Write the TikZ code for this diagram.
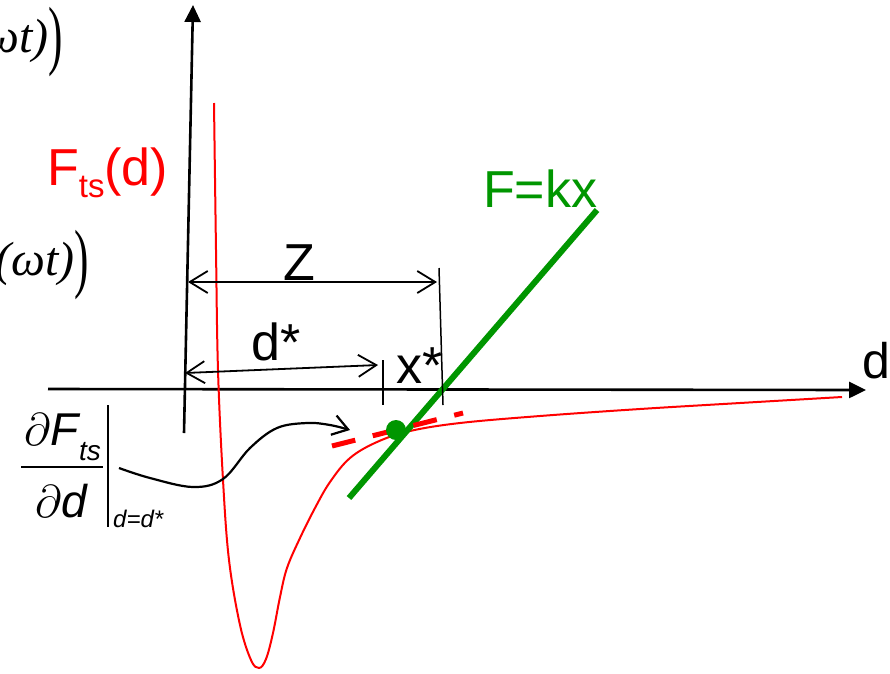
\RequirePackage{fix-cm}
\documentclass[tikz,border=0pt]{standalone}
\usepackage{fontspec}
\setmainfont{Liberation Sans}
\newfontfamily\tmsfont{Liberation Serif}
\usepackage{graphicx}
\usetikzlibrary{arrows.meta}
\definecolor{kgreen}{RGB}{0,150,0}
\begin{document}
\begin{tikzpicture}[x=1pt,y=-1pt,
  lbl/.style={inner sep=0pt, font=\fontsize{52}{60}\selectfont},
  formula/.style={inner sep=0pt, font=\fontsize{48}{52}\tmsfont\itshape},
  axisline/.style={line width=2.6pt, black},
  dimarrow/.style={line width=1.8pt, {Straight Barb[length=18pt,width=22pt]}-{Straight Barb[length=18pt,width=22pt]}},
  dimtick/.style={line width=1.5pt},
  forcecurve/.style={red, line width=2pt},
  tangent/.style={red, line width=5pt, dash pattern=on 24pt off 18pt},
  springline/.style={kgreen, line width=6pt},
  pointer/.style={line width=2.2pt, -{Straight Barb[length=15pt,width=20pt]}}]
\useasboundingbox (0,0) rectangle (890,673);
\begin{scope}
\clip (0,0) rectangle (890,673);

% clipped formula fragments on the left
\node[formula, anchor=base east] (f1) at (63,52)
  {(ωt)\raisebox{-0.17em}{\scalebox{0.9}[1.6]{\upshape )}}};
\node[formula, anchor=base east] (f2) at (89,275)
  {(ωt)\raisebox{-0.17em}{\scalebox{0.9}[1.6]{\upshape )}}};

% axes
\coordinate (vb) at (184,433);
\coordinate (vt) at (193,5);
\draw[axisline, -{Triangle[length=17pt,width=16pt]}] (vb) -- (vt);
\coordinate (hl) at (48,389);
\coordinate (hr) at (866,390);
\draw[axisline, -{Triangle[length=17pt,width=16pt]}] (hl) -- (hr);
\node[lbl, anchor=base west, font=\fontsize{50}{60}\selectfont] (dlab) at (862,378) {d};

% force curve
\draw[forcecurve] plot[smooth, tension=0.6] coordinates {
 (214,103) (216,250) (218,370) (223,480) (229,560) (240,625) (251,660) (259,668)
 (266,659) (273,633) (280,597) (287,568) (300,538) (315,508) (330,482) (350,458)
 (377,442) (410,431) (460,423) (540,416) (640,409) (740,403) (842,397)};
\node[lbl, anchor=base west, red] (fts) at (47,185)
  {F\raisebox{-12pt}{\fontsize{33}{36}\selectfont ts}(d)};

% spring line F=kx
\coordinate (g1) at (349,498);
\coordinate (g2) at (597,210);
\draw[springline] (g1) -- (g2);
\node[lbl, anchor=base west, kgreen] (fkx) at (483,207) {F=kx};

% tangent
\coordinate (t1) at (332,446);
\coordinate (t2) at (463,413);
\draw[tangent] (t1) -- (t2);
\fill[kgreen] (396,430) circle (10);
\coordinate (pt) at (350,430);

% dimension arrows
\coordinate (z1) at (188,282);
\coordinate (z2) at (437,282);
\draw[dimarrow] (z1) -- (z2);
\coordinate (zt1) at (439,268);
\coordinate (zt2) at (443,405);
\draw[dimtick] (zt1) -- (zt2);
\node[lbl, anchor=base] (Zlab) at (299,280) {Z};

\coordinate (d1) at (185,373);
\coordinate (d2) at (378,365);
\draw[dimarrow] (d1) -- (d2);
\coordinate (dt1) at (383,360);
\coordinate (dt2) at (383,405);
\draw[dimtick] (dt1) -- (dt2);
\node[lbl, anchor=base west] (dslab) at (251,360) {d*};
\node[lbl, anchor=base west] (xslab) at (396,383) {x*};

% derivative label
\node[inner sep=0pt, anchor=base west, font=\fontsize{46}{50}\selectfont] (num) at (24,445) {$\partial$\textit{F}};
\node[inner sep=0pt, anchor=base west, font=\fontsize{28}{30}\selectfont] (numsub) at (79,460) {\textit{ts}};
\coordinate (fb1) at (21,467);
\coordinate (fb2) at (103,467);
\draw[line width=2.4pt] (fb1) -- (fb2);
\node[inner sep=0pt, anchor=base west, font=\fontsize{46}{50}\selectfont] (den) at (35,517) {$\partial$\textit{d}};
\coordinate (vb1) at (108,405);
\coordinate (vb2) at (108,527);
\draw[line width=2.6pt] (vb1) -- (vb2);
\node[inner sep=0pt, anchor=base west, font=\fontsize{24}{26}\selectfont] (evsub) at (113,527) {\textit{d=d*}};

% pointer curve
\draw[pointer] plot[smooth, tension=0.6] coordinates {
 (119,468) (150,478) (193,487) (223,479) (250,448) (277,428) (307,423) (330,425) (pt)};
\end{scope}
\end{tikzpicture}
\end{document}
